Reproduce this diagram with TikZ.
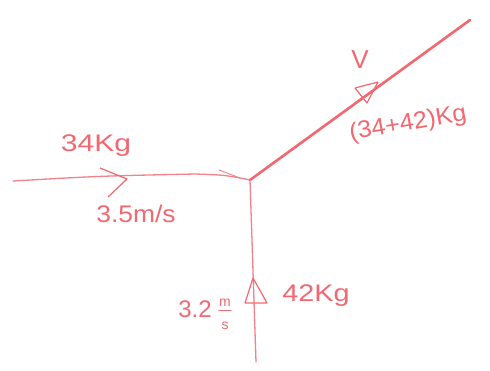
\documentclass[tikz,border=0pt]{standalone}
\usepackage{fontspec}
\setmainfont{Liberation Sans}
\definecolor{ink}{RGB}{242,104,112}
\definecolor{inkl}{RGB}{240,130,140}
\begin{document}
\begin{tikzpicture}[x=1pt,y=-1pt,
  lbl/.style={text=ink,font=\fontsize{24}{26}\selectfont,inner sep=0pt},
  small/.style={text=ink,font=\fontsize{14}{15}\selectfont,inner sep=0pt},
  thinline/.style={draw=inkl,line width=1.3pt,line cap=round},
  thickline/.style={draw=ink,line width=2.6pt,line cap=round},
  tip/.style={draw=ink,line width=1.2pt,line join=round}]
\useasboundingbox[fill=white] (0,0) rectangle (490,370);
% end points
\coordinate (J) at (250,180);
\coordinate (L) at (13,181);
\coordinate (Lm) at (195,174);
\coordinate (R) at (470,20);
\coordinate (B) at (256,362);
% connectors
\draw[thinline] (L) .. controls (100,176) .. (Lm) .. controls (225,175) .. (J);
\draw[thinline,line width=0.9pt] (219,170) -- (240,178);
\draw[thickline] (J) -- (R);
\draw[thinline] (J) -- (B);
% arrow marks
\coordinate (a1) at (100,168); \coordinate (a2) at (127,179); \coordinate (a3) at (108,197);
\draw[tip] (a1) -- (a2) -- (a3);
\coordinate (d1) at (378,82); \coordinate (d2) at (355,88); \coordinate (d3) at (367,103);
\draw[tip] (d1) -- (d2) (d1) -- (d3) -- (d2);
\coordinate (v1) at (253,278); \coordinate (v2) at (245,303); \coordinate (v3) at (267,303);
\draw[tip] (v1) -- (v2) -- (v3) -- cycle;
% labels
\node[lbl,xscale=1.25] (m1) at (96,146) {34Kg};
\node[lbl,xscale=1.1] (s1) at (136,214) {3.5m/s};
\node[lbl,font=\fontsize{26}{28}\selectfont] (vv) at (360,60) {V};
\node[lbl,rotate=10,xscale=1.05] (m3) at (408,124) {(34+42)Kg};
\node[lbl] (s2) at (195,309) {3.2};
\node[small] (fm) at (225,303) {m};
\node[small] (fs) at (225,326) {s};
\draw[draw=ink,line width=1pt,line cap=round] ([yshift=-4pt]fm.south west) coordinate (fb1) -- ([yshift=-4pt]fm.south east) coordinate (fb2);
\node[lbl,xscale=1.2] (m2) at (316,296) {42Kg};
\end{tikzpicture}
\end{document}
